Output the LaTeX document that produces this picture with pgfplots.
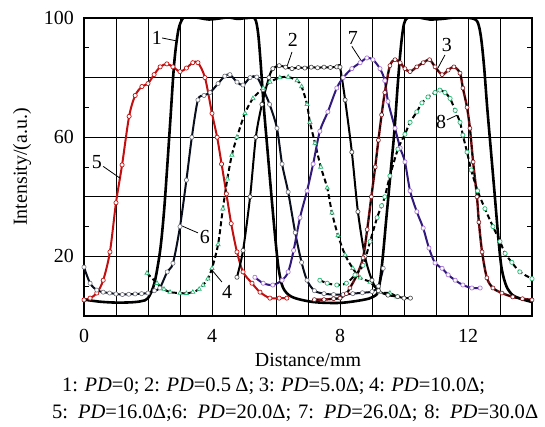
\documentclass[border=0pt]{standalone}
\usepackage{fontspec}
\setmainfont{Liberation Serif}
\usepackage{pgfplots}
\pgfplotsset{compat=1.18}

\definecolor{cred}{RGB}{195,15,15}
\definecolor{cmaroon}{RGB}{125,20,25}
\definecolor{cnavy}{RGB}{50,25,125}
\definecolor{clilac}{RGB}{170,120,215}
\definecolor{cgreen}{RGB}{35,185,115}
\definecolor{cdark}{RGB}{10,15,30}

\begin{document}
\begin{tikzpicture}[font=\fontsize{20}{24}\selectfont]
\begin{axis}[
  name=ax,
  width=448bp, height=298bp, scale only axis,
  xmin=0, xmax=14, ymin=0, ymax=100,
  xtick={0,...,14},
  xticklabels={0,,,,4,,,,8,,,,12,,},
  ytick={0,20,...,100},
  yticklabels={,20,,60,,100},
  minor ytick={10,30,50,70,90},
  tick align=inside,
  major tick length=0pt,
  minor tick length=5bp,
  grid=major,
  major grid style={black, line width=0.8bp},
  axis line style={line width=1.1bp},
  tick style={black, line width=0.8bp},
  xticklabel style={anchor=base, yshift=-26bp, inner sep=0pt},
  yticklabel style={anchor=east, xshift=-10bp, inner sep=0pt},
  every tick label/.append style={font=\fontsize{20}{24}\selectfont},
]
% 5: PD=16.0
\addplot[cred, line width=2bp, smooth, mark=*, mark size=2.1bp,
  mark options={fill=white, line width=0.7bp}] coordinates {
(0,5.4)(0.19,6)(0.4,7.7)(0.6,12)(0.81,21.5)(1.0,38)(1.19,50.7)(1.41,67)(1.6,74)
(1.81,77)(2.0,78)(2.19,81)(2.38,83.6)(2.59,84.6)(2.78,83.6)(3.0,82)(3.2,83.2)
(3.4,85)(3.56,85)(3.78,80)(4.0,68)(4.16,60)(4.3,51)(4.45,41)(4.6,31)(4.78,21.5)
(4.97,14.8)(5.25,11)(5.5,8)(5.81,6)(6.1,6)(6.34,6)};
% 6: PD=20.0
\addplot[cdark, line width=2bp, smooth, mark=*, mark size=2.1bp,
  mark options={fill=white, draw=cdark!60, line width=0.6bp}] coordinates {
(0,16.4)(0.19,11)(0.4,8.7)(0.6,8)(0.8,7.7)(1.0,7.4)(1.2,7.2)(1.4,7.3)(1.6,7.4)
(1.8,7.5)(2.0,7.7)(2.2,8.5)(2.37,9.4)(2.6,14.8)(2.78,17.7)(3.0,30)(3.2,45.6)
(3.37,60)(3.56,72.5)(3.75,74)(3.94,75)(4.19,78)(4.4,80.5)(4.56,81)(4.78,78.5)
(4.97,77.5)(5.19,80)(5.4,80.2)(5.6,76)(5.8,71)(6.03,63)(6.19,51)(6.38,41.6)
(6.6,28)(6.8,18)(6.97,12)(7.2,8.5)(7.5,7.5)(7.8,7.2)(8.1,7.2)(8.4,7.5)(8.7,7.8)
(9.0,8.2)(9.2,10)(9.35,16)};
% 4: PD=10.0
\addplot[black, line width=2bp, smooth, dash pattern=on 5bp off 3bp,
  mark=triangle*, mark size=2.4bp,
  mark options={solid, fill=white, draw=cgreen, line width=0.7bp}] coordinates {
(1.97,14.4)(2.28,11)(2.5,9)(2.69,8)(3.0,7.7)(3.2,7.6)(3.4,8)(3.6,9)(3.72,10.4)
(3.87,12.5)(4.0,16)(4.19,24)(4.34,36)(4.48,46)(4.62,54)(4.78,60)(5.03,68)
(5.28,73)(5.6,76.5)(5.81,78.5)(6.12,80)(6.38,80.2)(6.66,79)(6.8,77)(6.97,71)
(7.06,65)(7.22,58)(7.4,50)(7.6,43)(7.75,34.6)(7.94,27)(8.16,20.5)(8.4,16)
(8.63,12.8)(8.94,11.4)(9.25,8)(9.56,7.7)(9.78,6.4)};
% 2: PD=0.5
\addplot[black, line width=2bp, smooth, mark=*, mark size=2.1bp,
  mark options={fill=white, draw=black!75, line width=0.6bp}] coordinates {
(4.78,13)(4.97,22)(5.19,40)(5.37,60)(5.56,71)(5.78,80)(5.9,83)(6.1,84)(6.3,83.5)
(6.5,83)(6.7,83.4)(6.9,83.2)(7.1,83.5)(7.3,83.3)(7.5,83.5)(7.7,83.4)(7.9,83.6)
(8.0,83.5)(8.16,72.5)(8.37,55)(8.56,35)(8.78,20)(9.0,12)(9.2,8.5)(9.5,7)
(9.8,6.5)(10.0,6)(10.2,6)};
% 7: PD=26.0
\addplot[cnavy, line width=2bp, smooth, mark=*, mark size=2.1bp,
  mark options={fill=white, draw=clilac, line width=0.7bp}] coordinates {
(5.34,13)(5.6,11)(5.9,10.4)(6.19,12)(6.38,14.8)(6.55,22)(6.75,33)(6.97,42)
(7.16,51)(7.37,62)(7.62,68.5)(7.9,76.5)(8.1,80)(8.37,83)(8.63,85)(8.84,86.6)
(9.03,86)(9.25,83)(9.4,79)(9.5,72)(9.72,63)(9.88,56.4)(10.03,51.7)(10.19,42)
(10.4,35)(10.6,29.5)(10.78,22.8)(10.97,17.8)(11.19,16)(11.38,13.8)(11.6,12)
(11.84,10.4)(12.12,9.4)(12.38,9.4)};
% 3: PD=5.0
\addplot[cmaroon, line width=2.4bp, smooth] coordinates {
(7.2,5.5)(7.5,5.5)(7.8,5.8)(8.0,6)(8.2,7.5)(8.31,9.4)(8.53,13.8)(8.72,19.5)
(8.85,29)(8.98,40)(9.1,50)(9.2,59)(9.3,67.5)(9.4,75)(9.56,84)(9.72,86)(9.88,85)
(10.03,83)(10.19,82)(10.4,83.6)(10.6,85)(10.8,86)(10.97,83.6)(11.19,81)
(11.38,82.5)(11.56,83.6)(11.75,81.5)(11.84,76.5)(11.97,70)(12.06,63)(12.16,51.7)
(12.28,40)(12.34,31.5)(12.44,21.5)(12.59,12.8)(12.78,9.4)(13.06,7.7)(13.4,6.4)
(13.7,5.8)(14,5.4)};
\addplot[black, line width=1.3bp, smooth, dash pattern=on 4bp off 3bp,
  mark=*, mark size=2bp,
  mark options={solid, fill=white, draw=cmaroon, line width=0.6bp}] coordinates {
(7.2,5.5)(7.5,5.5)(7.8,5.8)(8.0,6)(8.2,7.5)(8.31,9.4)(8.53,13.8)(8.72,19.5)
(8.85,29)(8.98,40)(9.1,50)(9.2,59)(9.3,67.5)(9.4,75)(9.56,84)(9.72,86)(9.88,85)
(10.03,83)(10.19,82)(10.4,83.6)(10.6,85)(10.8,86)(10.97,83.6)(11.19,81)
(11.38,82.5)(11.56,83.6)(11.75,81.5)(11.84,76.5)(11.97,70)(12.06,63)(12.16,51.7)
(12.28,40)(12.34,31.5)(12.44,21.5)(12.59,12.8)(12.78,9.4)(13.06,7.7)(13.4,6.4)
(13.7,5.8)(14,5.4)};
% 8: PD=30.0
\addplot[black, line width=2bp, smooth, dash pattern=on 5bp off 3bp,
  mark=*, mark size=2.1bp,
  mark options={solid, fill=white, draw=cgreen, line width=0.7bp}] coordinates {
(7.37,12)(7.6,11)(7.9,10.4)(8.2,11)(8.47,13.8)(8.72,17)(8.94,25)(9.16,33)
(9.3,37)(9.4,40)(9.56,47)(9.81,56)(10.03,61)(10.19,65)(10.4,68.5)(10.56,71.5)
(10.75,73.5)(10.97,75)(11.12,75.8)(11.28,75)(11.44,73)(11.6,69)(11.75,65)
(11.84,60.7)(11.97,55)(12.1,49)(12.3,42)(12.53,36)(12.78,30)(13,25)(13.16,21)
(13.37,18)(13.62,14.8)(14,12.5)};
% 1: PD=0
\addplot[black, line width=2.6bp, smooth] coordinates {
(0,5.5)(0.5,4.8)(1,4.5)(1.5,4.6)(1.8,5)(2.0,6)(2.2,11)(2.38,22)(2.5,35)(2.6,50)
(2.7,66)(2.82,85)(2.95,96)(3.1,100)(3.3,100.4)(3.6,100)(3.9,99.5)(4.2,99.8)
(4.5,100.2)(4.8,99.7)(5.1,100)(5.34,99.8)(5.44,95)(5.52,85)(5.62,70)(5.74,55)
(5.86,40)(5.97,27)(6.08,16)(6.22,9.5)(6.5,6.4)(7.16,4.7)(8,4.4)(8.72,5.4)
(9.03,6.4)(9.2,8.5)(9.32,18)(9.45,33)(9.58,48)(9.7,62)(9.8,77)(9.9,90)(10.0,98)
(10.15,100.3)(10.5,100.1)(10.8,99.5)(11.2,99.7)(11.6,100.2)(12.0,100.1)(12.28,99)
(12.4,94)(12.5,84)(12.6,70)(12.72,55)(12.84,40)(12.95,26)(13.05,16)(13.2,10)
(13.4,7)(13.7,5.6)(14,4.7)};

% curve numbers
\draw[line width=0.8bp] (axis cs:2.44,93.3) -- (axis cs:2.9,92.3);
\node at (axis cs:2.28,93.3) {1};
\draw[line width=0.8bp] (axis cs:6.5,88.6) -- (axis cs:6.34,83.6);
\node at (axis cs:6.53,92.6) {2};
\draw[line width=0.8bp] (axis cs:11.28,87.6) -- (axis cs:11.06,83.2);
\node at (axis cs:11.34,90.8) {3};
\draw[line width=0.8bp] (axis cs:4.31,11.4) -- (axis cs:4.0,15.4);
\node at (axis cs:4.47,8) {4};
\draw[line width=0.8bp] (axis cs:0.6,50.2) -- (axis cs:1.12,46.3);
\node at (axis cs:0.4,51.7) {5};
\draw[line width=0.8bp] (axis cs:3.56,27.9) -- (axis cs:3.0,30.5);
\node at (axis cs:3.78,26.5) {6};
\draw[line width=0.8bp] (axis cs:8.37,90.5) -- (axis cs:8.69,85.2);
\node at (axis cs:8.4,93.3) {7};
\draw[line width=0.8bp] (axis cs:11.34,65.8) -- (axis cs:11.66,67.4);
\node at (axis cs:11.16,65) {8};
\end{axis}
\path (ax.south west) ++(-84bp,-111bp) rectangle ++(545bp,427bp);
\node[rotate=90, anchor=center] at ([shift={(-62bp,149bp)}]ax.south west) {Intensity/(a.u.)};
\node[anchor=base] at ([shift={(224bp,-50bp)}]ax.south west) {Distance/mm};
\node[anchor=base west, inner sep=0pt, font=\fontsize{20.6}{24}\selectfont] at ([shift={(-22bp,-75bp)}]ax.south west)
  {\makebox[423bp][s]{1: \textit{PD}=0; 2: \textit{PD}=0.5 Δ; 3: \textit{PD}=5.0Δ; 4: \textit{PD}=10.0Δ;}};
\node[anchor=base west, inner sep=0pt, font=\fontsize{20.6}{24}\selectfont] at ([shift={(-32bp,-102bp)}]ax.south west)
  {\makebox[486bp][s]{5: \textit{PD}=16.0Δ;6: \textit{PD}=20.0Δ; 7: \textit{PD}=26.0Δ; 8: \textit{PD}=30.0Δ}};
\end{tikzpicture}
\end{document}
